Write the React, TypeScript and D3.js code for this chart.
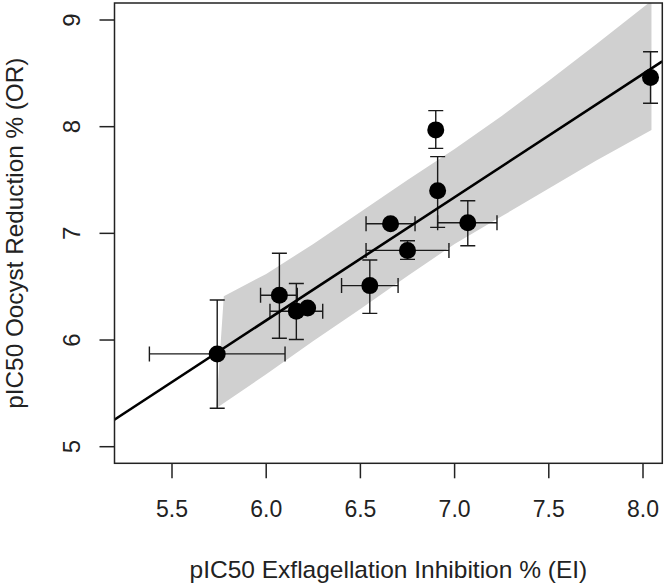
import * as d3 from 'd3'

// compounds: pIC50 values with error bar ends (null = no visible bar)
const EI = [5.74, 6.07, 6.16, 6.22, 6.55, 6.66, 6.75, 6.9, 6.91, 7.07, 8.04]
const OR = [5.87, 6.42, 6.27, 6.3, 6.51, 7.09, 6.84, 7.97, 7.4, 7.1, 8.46]
const EI_LO = [5.38, 5.97, 6.02, null, 6.4, 6.53, 6.53, null, null, 6.91, null]
const EI_HI = [6.1, 6.165, 6.3, null, 6.7, 6.79, 6.97, null, null, 7.225, null]
const OR_LO = [5.36, 6.016, 6.005, null, 6.25, null, 6.756, 7.797, 7.056, 6.884, 8.219]
const OR_HI = [6.375, 6.813, 6.53, null, 6.75, null, 6.931, 8.15, 7.719, 7.306, 8.703]

// fitted line end points
const FIT_X = [5.194, 8.102]
const FIT_Y = [5.253, 8.612]

// confidence band edges
const BAND_UP_X = [5.775, 6.0, 6.25, 6.5, 6.75, 7.0, 7.25, 7.5, 7.75, 8.045]
const BAND_UP_Y = [6.41, 6.62, 6.9, 7.2, 7.5, 7.79, 8.1, 8.43, 8.77, 9.18]
const BAND_LO_X = [5.735, 6.0, 6.25, 6.5, 6.75, 7.0, 7.25, 7.5, 7.75, 8.045]
const BAND_LO_Y = [5.36, 5.68, 5.99, 6.29, 6.6, 6.9, 7.16, 7.42, 7.68, 7.97]

const X_TICKS = [5.5, 6.0, 6.5, 7.0, 7.5, 8.0]
const Y_TICKS = [5, 6, 7, 8, 9]

const W = 666
const H = 583
const FONT = 'Liberation Sans, Arial, sans-serif'

export default function App() {
  const left = 114.5
  const right = 662.3
  const top = 3
  const bottom = 463.3

  const x = d3.scaleLinear().domain([5.5, 8.0]).range([172, 643])
  const y = d3.scaleLinear().domain([5, 9]).range([446.7, 20])

  const bandPts: Array<[number, number]> = [
    ...BAND_UP_X.map((v, i) => [x(v), y(BAND_UP_Y[i])] as [number, number]),
    ...BAND_LO_X.map((v, i) => [x(v), y(BAND_LO_Y[i])] as [number, number]).reverse(),
  ]
  const band = d3.line()(bandPts) + 'Z'
  const cap = 7.5
  const textColor = '#222'

  return (
    <svg
      width={W}
      height={H}
      style={{ position: 'absolute', left: 0, top: 0, background: '#fff' }}
      fontFamily={FONT}
    >
      <defs>
        <clipPath id="plotArea">
          <rect x={left} y={top} width={right - left} height={bottom - top} />
        </clipPath>
      </defs>

      <g clipPath="url(#plotArea)">
        <path d={band} fill="#d0d0d0" />

        {EI.map((v, i) => (
          <g key={'err' + i} stroke="#1a1a1a" strokeWidth={1.4} fill="none">
            {OR_LO[i] != null && (
              <>
                <line x1={x(v)} x2={x(v)} y1={y(OR_LO[i] as number)} y2={y(OR_HI[i] as number)} />
                <line x1={x(v) - cap} x2={x(v) + cap} y1={y(OR_LO[i] as number)} y2={y(OR_LO[i] as number)} />
                <line x1={x(v) - cap} x2={x(v) + cap} y1={y(OR_HI[i] as number)} y2={y(OR_HI[i] as number)} />
              </>
            )}
            {EI_LO[i] != null && (
              <>
                <line x1={x(EI_LO[i] as number)} x2={x(EI_HI[i] as number)} y1={y(OR[i])} y2={y(OR[i])} />
                <line x1={x(EI_LO[i] as number)} x2={x(EI_LO[i] as number)} y1={y(OR[i]) - cap} y2={y(OR[i]) + cap} />
                <line x1={x(EI_HI[i] as number)} x2={x(EI_HI[i] as number)} y1={y(OR[i]) - cap} y2={y(OR[i]) + cap} />
              </>
            )}
          </g>
        ))}

        <line
          x1={x(FIT_X[0])}
          y1={y(FIT_Y[0])}
          x2={x(FIT_X[1])}
          y2={y(FIT_Y[1])}
          stroke="#000"
          strokeWidth={2.6}
        />

        {EI.map((v, i) => (
          <circle key={'pt' + i} cx={x(v)} cy={y(OR[i])} r={8.5} fill="#000" />
        ))}
      </g>

      {/* plot box */}
      <rect
        x={left}
        y={top}
        width={right - left}
        height={bottom - top}
        fill="none"
        stroke="#222"
        strokeWidth={1.5}
      />

      {/* x axis */}
      {X_TICKS.map((t) => (
        <g key={'xt' + t}>
          <line x1={x(t)} x2={x(t)} y1={bottom} y2={bottom + 15} stroke="#222" strokeWidth={1.5} />
          <text x={x(t)} y={517} textAnchor="middle" fontSize={23} fill={textColor}>
            {d3.format('.1f')(t)}
          </text>
        </g>
      ))}

      {/* y axis */}
      {Y_TICKS.map((t) => (
        <g key={'yt' + t}>
          <line x1={left - 15} x2={left} y1={y(t)} y2={y(t)} stroke="#222" strokeWidth={1.5} />
          <text
            transform={`translate(80,${y(t)}) rotate(-90)`}
            textAnchor="middle"
            fontSize={24}
            fill={textColor}
          >
            {t}
          </text>
        </g>
      ))}

      <text x={(left + right) / 2} y={578} textAnchor="middle" fontSize={24.5} fill={textColor}>
        pIC50 Exflagellation Inhibition % (EI)
      </text>
      <text
        transform={`translate(23,${(top + bottom) / 2}) rotate(-90)`}
        textAnchor="middle"
        fontSize={24.3}
        fill={textColor}
      >
        pIC50 Oocyst Reduction % (OR)
      </text>
    </svg>
  )
}
